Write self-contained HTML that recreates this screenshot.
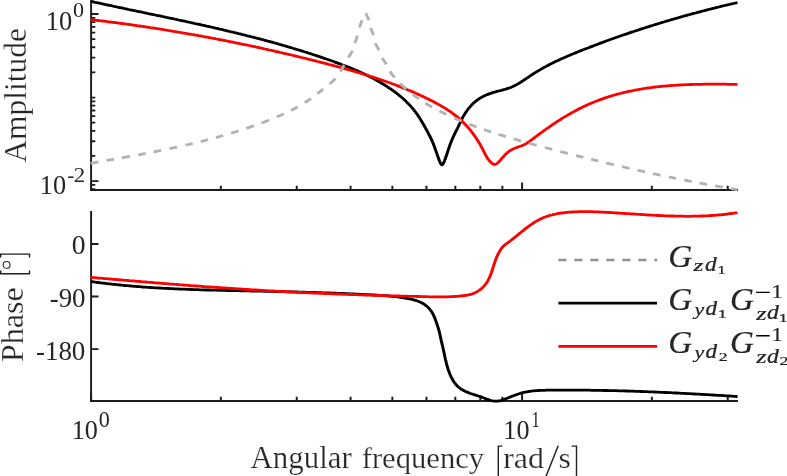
<!DOCTYPE html>
<html><head><meta charset="utf-8"><title>Bode plot</title>
<style>html,body{margin:0;padding:0;background:#fff;overflow:hidden}svg{display:block;will-change:transform}text{font-family:"Liberation Serif",serif;fill:#262626}</style></head><body>
<svg width="787" height="476" viewBox="0 0 787 476">
<rect width="787" height="476" fill="#fff"/>
<g stroke="#1c1c1c" stroke-width="1.8" fill="none" stroke-linecap="butt">
<path d="M91.1 0 V190.90" stroke-width="1.95"/>
<path d="M90.12 190.0 H738.0"/>
<path d="M91.1 211.0 V401.90" stroke-width="1.95"/>
<path d="M90.12 401.0 H738.0"/>
<path d="M91.1 14.00 h7.4 M91.1 181.10 h7.4 M91.1 97.55 h4.2 M91.1 72.40 h4.2 M91.1 57.69 h4.2 M91.1 47.25 h4.2 M91.1 39.15 h4.2 M91.1 32.54 h4.2 M91.1 26.94 h4.2 M91.1 22.10 h4.2 M91.1 17.82 h4.2 M91.1 155.95 h4.2 M91.1 141.24 h4.2 M91.1 130.80 h4.2 M91.1 122.70 h4.2 M91.1 116.09 h4.2 M91.1 110.49 h4.2 M91.1 105.65 h4.2 M91.1 101.37 h4.2 M91.1 189.20 h4.2 M91.1 184.92 h4.2 M91.1 244.0 h7.4 M91.1 296.5 h7.4 M91.1 349.1 h7.4"/>
<path d="M91.10 190.0 v-7.4 M522.10 190.0 v-7.4 M220.84 190.0 v-4.2 M296.74 190.0 v-4.2 M350.59 190.0 v-4.2 M392.36 190.0 v-4.2 M426.48 190.0 v-4.2 M455.34 190.0 v-4.2 M480.33 190.0 v-4.2 M502.38 190.0 v-4.2 M651.84 190.0 v-4.2 M727.74 190.0 v-4.2 M91.10 401.0 v-7.4 M522.10 401.0 v-7.4 M220.84 401.0 v-4.2 M296.74 401.0 v-4.2 M350.59 401.0 v-4.2 M392.36 401.0 v-4.2 M426.48 401.0 v-4.2 M455.34 401.0 v-4.2 M480.33 401.0 v-4.2 M502.38 401.0 v-4.2 M651.84 401.0 v-4.2 M727.74 401.0 v-4.2" stroke-width="1.95"/>
</g>
<g fill="none" stroke-linejoin="round" stroke-linecap="butt" transform="scale(1.06 1)">
<path d="M85.47 1.3 L86.85 1.6 L88.23 1.9 L89.62 2.3 L91.00 2.6 L92.38 2.9 L93.76 3.2 L95.14 3.5 L96.53 3.8 L97.91 4.2 L99.29 4.5 L100.67 4.8 L102.06 5.1 L103.44 5.4 L104.82 5.7 L106.21 6.0 L107.59 6.4 L108.98 6.7 L110.36 7.0 L111.74 7.3 L113.13 7.6 L114.51 7.9 L115.90 8.2 L117.28 8.5 L118.67 8.8 L120.05 9.1 L121.44 9.5 L122.82 9.8 L124.21 10.1 L125.59 10.4 L126.98 10.7 L128.36 11.0 L129.75 11.3 L131.13 11.6 L132.52 11.9 L133.91 12.2 L135.29 12.5 L136.68 12.8 L138.06 13.1 L139.45 13.5 L140.83 13.8 L142.22 14.1 L143.60 14.4 L144.99 14.7 L146.38 15.0 L147.76 15.3 L149.15 15.6 L150.53 15.9 L151.92 16.2 L153.30 16.5 L154.69 16.8 L156.07 17.2 L157.46 17.5 L158.84 17.8 L160.23 18.1 L161.61 18.4 L163.00 18.7 L164.38 19.0 L165.77 19.3 L167.15 19.6 L168.54 20.0 L169.92 20.3 L171.31 20.6 L172.69 20.9 L174.07 21.2 L175.46 21.5 L176.84 21.9 L178.23 22.2 L179.61 22.5 L180.99 22.8 L182.37 23.1 L183.76 23.5 L185.14 23.8 L186.52 24.1 L187.90 24.4 L189.29 24.7 L190.67 25.1 L192.05 25.4 L193.43 25.7 L194.81 26.1 L196.19 26.4 L197.57 26.7 L198.95 27.0 L200.33 27.4 L201.71 27.7 L203.09 28.1 L204.47 28.4 L205.85 28.7 L207.23 29.1 L208.61 29.4 L209.98 29.7 L211.36 30.1 L212.74 30.4 L214.12 30.8 L215.49 31.1 L216.87 31.5 L218.24 31.8 L219.62 32.2 L221.00 32.5 L222.37 32.9 L223.74 33.2 L225.12 33.6 L226.49 33.9 L227.87 34.3 L229.24 34.7 L230.61 35.0 L231.98 35.4 L233.36 35.8 L234.73 36.1 L236.10 36.5 L237.47 36.9 L238.84 37.2 L240.21 37.6 L241.58 38.0 L242.95 38.4 L244.31 38.7 L245.68 39.1 L247.05 39.5 L248.42 39.9 L249.78 40.3 L251.15 40.7 L252.51 41.1 L253.88 41.4 L255.24 41.8 L256.61 42.2 L257.97 42.6 L259.33 43.0 L260.69 43.4 L262.06 43.8 L263.42 44.3 L264.78 44.7 L266.14 45.1 L267.50 45.5 L268.86 45.9 L270.21 46.3 L271.57 46.7 L272.93 47.2 L274.28 47.6 L275.64 48.0 L277.00 48.5 L278.35 48.9 L279.70 49.3 L281.06 49.8 L282.41 50.2 L283.76 50.6 L285.11 51.1 L286.46 51.5 L287.81 52.0 L289.16 52.4 L290.51 52.9 L291.86 53.3 L293.21 53.8 L294.55 54.3 L295.90 54.7 L297.25 55.2 L298.59 55.7 L299.93 56.1 L301.28 56.6 L302.62 57.1 L303.96 57.6 L305.30 58.1 L306.64 58.6 L307.98 59.0 L309.32 59.5 L310.66 60.0 L312.00 60.5 L313.33 61.0 L314.67 61.5 L316.00 62.1 L317.33 62.6 L318.67 63.1 L320.00 63.6 L321.33 64.1 L322.65 64.7 L323.98 65.2 L325.30 65.7 L326.62 66.3 L327.94 66.8 L329.26 67.4 L330.57 67.9 L331.88 68.5 L333.19 69.1 L334.50 69.7 L335.80 70.2 L337.10 70.8 L338.39 71.4 L339.69 72.1 L340.97 72.7 L342.26 73.3 L343.54 73.9 L344.81 74.6 L346.09 75.2 L347.35 75.9 L348.62 76.5 L349.88 77.2 L351.13 77.9 L352.38 78.6 L353.62 79.3 L354.86 80.0 L356.09 80.7 L357.32 81.5 L358.54 82.2 L359.76 83.0 L360.96 83.8 L362.17 84.5 L363.37 85.3 L364.56 86.1 L365.74 87.0 L366.92 87.8 L368.09 88.6 L369.25 89.5 L370.41 90.3 L371.56 91.2 L372.70 92.1 L373.83 93.0 L374.95 94.0 L376.07 94.9 L377.17 95.8 L378.26 96.8 L379.34 97.8 L380.40 98.8 L381.45 99.8 L382.49 100.8 L383.51 101.9 L384.52 102.9 L385.51 104.0 L386.48 105.1 L387.44 106.2 L388.38 107.3 L389.30 108.4 L390.20 109.6 L391.08 110.8 L391.94 112.0 L392.78 113.2 L393.59 114.4 L394.39 115.6 L395.18 116.9 L395.94 118.1 L396.69 119.4 L397.43 120.7 L398.16 122.0 L398.87 123.3 L399.58 124.6 L400.27 125.9 L400.96 127.2 L401.65 128.5 L402.32 129.8 L403.00 131.1 L403.67 132.4 L404.33 133.8 L404.98 135.1 L405.62 136.4 L406.25 137.8 L406.86 139.1 L407.45 140.5 L408.02 141.9 L408.57 143.3 L409.11 144.8 L409.62 146.2 L410.11 147.6 L410.59 149.0 L411.05 150.4 L411.49 151.7 L411.91 153.0 L412.33 154.3 L412.77 155.7 L413.23 157.0 L413.74 158.5 L414.31 160.1 L414.95 161.9 L415.66 163.5 L416.41 164.6 L417.19 164.8 L417.96 163.9 L418.71 162.3 L419.40 160.6 L420.02 158.9 L420.57 157.3 L421.07 155.8 L421.52 154.4 L421.94 153.0 L422.34 151.7 L422.74 150.4 L423.13 149.1 L423.55 147.8 L423.98 146.5 L424.44 145.1 L424.93 143.7 L425.43 142.3 L425.96 140.9 L426.51 139.5 L427.08 138.0 L427.68 136.6 L428.29 135.3 L428.91 133.9 L429.54 132.6 L430.18 131.2 L430.82 129.9 L431.45 128.6 L432.08 127.2 L432.68 125.9 L433.28 124.5 L433.86 123.2 L434.46 121.8 L435.08 120.4 L435.72 119.1 L436.39 117.7 L437.08 116.4 L437.81 115.1 L438.56 113.8 L439.34 112.5 L440.15 111.3 L440.98 110.0 L441.85 108.8 L442.74 107.7 L443.66 106.5 L444.62 105.4 L445.60 104.3 L446.61 103.3 L447.65 102.3 L448.73 101.3 L449.83 100.4 L450.96 99.5 L452.12 98.7 L453.31 97.9 L454.52 97.2 L455.76 96.5 L457.02 95.8 L458.29 95.2 L459.58 94.6 L460.89 94.1 L462.22 93.6 L463.55 93.1 L464.90 92.6 L466.25 92.2 L467.61 91.8 L468.98 91.4 L470.34 91.0 L471.71 90.6 L473.08 90.3 L474.44 89.9 L475.80 89.5 L477.15 89.1 L478.49 88.6 L479.82 88.2 L481.13 87.7 L482.43 87.2 L483.71 86.6 L484.97 86.0 L486.21 85.3 L487.45 84.6 L488.67 83.9 L489.88 83.1 L491.08 82.3 L492.27 81.5 L493.45 80.7 L494.64 79.8 L495.81 79.0 L496.99 78.2 L498.17 77.3 L499.35 76.5 L500.53 75.6 L501.72 74.8 L502.92 74.0 L504.12 73.2 L505.32 72.4 L506.53 71.6 L507.75 70.8 L508.97 70.1 L510.20 69.3 L511.43 68.6 L512.67 67.8 L513.91 67.1 L515.15 66.4 L516.40 65.7 L517.65 65.0 L518.91 64.3 L520.17 63.6 L521.44 63.0 L522.71 62.3 L523.98 61.6 L525.26 61.0 L526.54 60.4 L527.82 59.7 L529.11 59.1 L530.39 58.5 L531.69 57.9 L532.98 57.3 L534.28 56.7 L535.58 56.1 L536.88 55.5 L538.18 54.9 L539.49 54.3 L540.80 53.8 L542.11 53.2 L543.42 52.6 L544.73 52.1 L546.04 51.5 L547.36 50.9 L548.68 50.4 L550.00 49.8 L551.31 49.3 L552.63 48.7 L553.95 48.2 L555.27 47.7 L556.60 47.1 L557.92 46.6 L559.24 46.1 L560.57 45.5 L561.89 45.0 L563.22 44.5 L564.54 43.9 L565.87 43.4 L567.19 42.9 L568.52 42.4 L569.85 41.9 L571.18 41.3 L572.51 40.8 L573.84 40.3 L575.17 39.8 L576.50 39.3 L577.84 38.8 L579.17 38.3 L580.50 37.8 L581.84 37.3 L583.17 36.8 L584.51 36.3 L585.84 35.8 L587.18 35.3 L588.52 34.8 L589.86 34.3 L591.20 33.9 L592.54 33.4 L593.88 32.9 L595.22 32.4 L596.56 31.9 L597.90 31.5 L599.24 31.0 L600.59 30.5 L601.93 30.1 L603.27 29.6 L604.62 29.1 L605.96 28.7 L607.31 28.2 L608.66 27.7 L610.00 27.3 L611.35 26.8 L612.70 26.4 L614.05 25.9 L615.40 25.5 L616.75 25.0 L618.10 24.6 L619.45 24.2 L620.80 23.7 L622.16 23.3 L623.51 22.8 L624.86 22.4 L626.22 22.0 L627.57 21.5 L628.93 21.1 L630.28 20.7 L631.64 20.3 L633.00 19.8 L634.36 19.4 L635.71 19.0 L637.07 18.6 L638.43 18.2 L639.79 17.8 L641.15 17.3 L642.51 16.9 L643.88 16.5 L645.24 16.1 L646.60 15.7 L647.96 15.3 L649.33 14.9 L650.69 14.5 L652.06 14.1 L653.42 13.7 L654.79 13.3 L656.15 13.0 L657.52 12.6 L658.89 12.2 L660.26 11.8 L661.62 11.4 L662.99 11.0 L664.36 10.7 L665.73 10.3 L667.10 9.9 L668.47 9.5 L669.84 9.2 L671.22 8.8 L672.59 8.4 L673.96 8.1 L675.33 7.7 L676.71 7.3 L678.08 7.0 L679.46 6.6 L680.83 6.2 L682.21 5.9 L683.58 5.5 L684.96 5.2 L686.34 4.8 L687.71 4.5 L689.09 4.1 L690.47 3.8 L691.85 3.5 L693.23 3.1 L694.61 2.8 L695.75 2.5" stroke="#000" stroke-width="2.8"/>
<path d="M85.47 19.6 L86.88 19.8 L88.28 19.9 L89.69 20.1 L91.10 20.3 L92.50 20.5 L93.91 20.7 L95.31 20.8 L96.72 21.0 L98.12 21.2 L99.53 21.4 L100.93 21.6 L102.33 21.8 L103.74 22.0 L105.14 22.2 L106.55 22.3 L107.95 22.5 L109.35 22.7 L110.76 22.9 L112.16 23.1 L113.56 23.3 L114.96 23.5 L116.37 23.7 L117.77 23.9 L119.17 24.1 L120.57 24.3 L121.98 24.5 L123.38 24.7 L124.78 25.0 L126.18 25.2 L127.58 25.4 L128.98 25.6 L130.38 25.8 L131.78 26.0 L133.18 26.2 L134.58 26.5 L135.98 26.7 L137.38 26.9 L138.78 27.1 L140.18 27.3 L141.58 27.6 L142.98 27.8 L144.38 28.0 L145.78 28.2 L147.18 28.5 L148.57 28.7 L149.97 28.9 L151.37 29.2 L152.77 29.4 L154.16 29.6 L155.56 29.9 L156.96 30.1 L158.36 30.4 L159.75 30.6 L161.15 30.8 L162.55 31.1 L163.94 31.3 L165.34 31.6 L166.73 31.8 L168.13 32.1 L169.52 32.3 L170.92 32.6 L172.31 32.8 L173.71 33.1 L175.10 33.3 L176.50 33.6 L177.89 33.8 L179.28 34.1 L180.68 34.4 L182.07 34.6 L183.46 34.9 L184.86 35.2 L186.25 35.4 L187.64 35.7 L189.03 35.9 L190.43 36.2 L191.82 36.5 L193.21 36.8 L194.60 37.0 L195.99 37.3 L197.38 37.6 L198.77 37.9 L200.16 38.1 L201.55 38.4 L202.94 38.7 L204.33 39.0 L205.72 39.3 L207.11 39.5 L208.50 39.8 L209.89 40.1 L211.28 40.4 L212.67 40.7 L214.05 41.0 L215.44 41.3 L216.83 41.6 L218.22 41.9 L219.60 42.2 L220.99 42.5 L222.38 42.8 L223.76 43.1 L225.15 43.4 L226.54 43.7 L227.92 44.0 L229.31 44.3 L230.69 44.6 L232.08 44.9 L233.46 45.2 L234.85 45.5 L236.23 45.8 L237.62 46.1 L239.00 46.4 L240.38 46.7 L241.77 47.1 L243.15 47.4 L244.53 47.7 L245.91 48.0 L247.30 48.3 L248.68 48.7 L250.06 49.0 L251.44 49.3 L252.82 49.6 L254.20 50.0 L255.58 50.3 L256.97 50.6 L258.35 50.9 L259.73 51.3 L261.10 51.6 L262.48 51.9 L263.86 52.3 L265.24 52.6 L266.62 53.0 L268.00 53.3 L269.38 53.6 L270.76 54.0 L272.13 54.3 L273.51 54.7 L274.89 55.0 L276.26 55.4 L277.64 55.7 L279.02 56.1 L280.39 56.4 L281.77 56.8 L283.14 57.1 L284.52 57.5 L285.89 57.8 L287.27 58.2 L288.64 58.5 L290.02 58.9 L291.39 59.3 L292.77 59.6 L294.14 60.0 L295.51 60.4 L296.88 60.7 L298.26 61.1 L299.63 61.5 L301.00 61.8 L302.37 62.2 L303.74 62.6 L305.11 62.9 L306.48 63.3 L307.86 63.7 L309.23 64.1 L310.59 64.5 L311.96 64.8 L313.33 65.2 L314.70 65.6 L316.07 66.0 L317.43 66.4 L318.80 66.8 L320.17 67.2 L321.53 67.6 L322.90 68.0 L324.26 68.4 L325.62 68.8 L326.99 69.2 L328.35 69.6 L329.71 70.0 L331.07 70.4 L332.43 70.8 L333.79 71.2 L335.15 71.6 L336.50 72.1 L337.86 72.5 L339.21 72.9 L340.57 73.3 L341.92 73.8 L343.27 74.2 L344.63 74.7 L345.98 75.1 L347.32 75.6 L348.67 76.0 L350.02 76.5 L351.37 76.9 L352.71 77.4 L354.05 77.8 L355.40 78.3 L356.74 78.8 L358.08 79.3 L359.41 79.8 L360.75 80.2 L362.09 80.7 L363.42 81.2 L364.75 81.7 L366.09 82.2 L367.42 82.7 L368.74 83.2 L370.07 83.8 L371.40 84.3 L372.72 84.8 L374.04 85.3 L375.36 85.9 L376.68 86.4 L378.00 87.0 L379.32 87.5 L380.63 88.1 L381.94 88.6 L383.26 89.2 L384.56 89.8 L385.87 90.3 L387.18 90.9 L388.48 91.5 L389.78 92.1 L391.08 92.7 L392.38 93.3 L393.68 93.9 L394.97 94.5 L396.26 95.2 L397.55 95.8 L398.84 96.4 L400.13 97.1 L401.41 97.7 L402.69 98.4 L403.97 99.0 L405.25 99.7 L406.52 100.4 L407.79 101.1 L409.05 101.8 L410.31 102.5 L411.57 103.2 L412.81 103.9 L414.05 104.6 L415.29 105.4 L416.51 106.1 L417.73 106.9 L418.94 107.7 L420.15 108.4 L421.34 109.2 L422.52 110.1 L423.69 110.9 L424.85 111.7 L426.00 112.6 L427.14 113.5 L428.27 114.4 L429.38 115.3 L430.48 116.2 L431.57 117.1 L432.64 118.1 L433.70 119.1 L434.74 120.1 L435.77 121.1 L436.78 122.1 L437.78 123.2 L438.76 124.2 L439.73 125.3 L440.68 126.4 L441.61 127.6 L442.53 128.7 L443.43 129.8 L444.32 131.0 L445.19 132.2 L446.04 133.4 L446.88 134.6 L447.71 135.8 L448.51 137.1 L449.30 138.3 L450.08 139.6 L450.84 140.8 L451.58 142.1 L452.31 143.4 L453.02 144.7 L453.71 146.0 L454.39 147.4 L455.06 148.7 L455.70 150.0 L456.34 151.4 L456.98 152.7 L457.63 154.1 L458.30 155.4 L459.01 156.7 L459.76 157.9 L460.57 159.2 L461.44 160.4 L462.39 161.5 L463.42 162.6 L464.55 163.6 L465.75 164.3 L466.98 164.5 L468.20 164.0 L469.39 163.1 L470.52 161.9 L471.58 160.7 L472.56 159.5 L473.49 158.4 L474.40 157.2 L475.30 156.2 L476.23 155.1 L477.21 154.1 L478.24 153.1 L479.33 152.1 L480.47 151.2 L481.65 150.3 L482.88 149.6 L484.15 148.9 L485.45 148.3 L486.78 147.8 L488.11 147.3 L489.46 146.8 L490.79 146.3 L492.12 145.8 L493.43 145.2 L494.71 144.6 L495.95 143.9 L497.16 143.1 L498.35 142.2 L499.51 141.4 L500.67 140.5 L501.81 139.6 L502.96 138.7 L504.09 137.8 L505.23 136.9 L506.36 136.0 L507.49 135.1 L508.62 134.2 L509.75 133.4 L510.88 132.5 L512.01 131.6 L513.14 130.7 L514.27 129.9 L515.41 129.0 L516.55 128.1 L517.70 127.3 L518.85 126.4 L520.01 125.6 L521.17 124.7 L522.34 123.9 L523.52 123.1 L524.70 122.2 L525.88 121.4 L527.08 120.6 L528.28 119.8 L529.48 119.0 L530.69 118.2 L531.90 117.4 L533.12 116.6 L534.34 115.9 L535.57 115.1 L536.81 114.3 L538.05 113.6 L539.29 112.8 L540.54 112.1 L541.79 111.4 L543.05 110.7 L544.31 110.0 L545.57 109.3 L546.84 108.6 L548.12 107.9 L549.40 107.2 L550.68 106.6 L551.96 105.9 L553.25 105.3 L554.55 104.7 L555.84 104.1 L557.14 103.5 L558.45 102.9 L559.75 102.3 L561.07 101.8 L562.38 101.2 L563.70 100.7 L565.02 100.1 L566.34 99.6 L567.67 99.1 L568.99 98.6 L570.33 98.1 L571.66 97.6 L573.00 97.2 L574.34 96.7 L575.69 96.3 L577.03 95.9 L578.38 95.4 L579.73 95.0 L581.09 94.6 L582.44 94.2 L583.80 93.8 L585.17 93.5 L586.53 93.1 L587.90 92.7 L589.27 92.4 L590.64 92.1 L592.01 91.7 L593.39 91.4 L594.76 91.1 L596.14 90.8 L597.53 90.5 L598.91 90.2 L600.29 89.9 L601.68 89.7 L603.07 89.4 L604.46 89.2 L605.85 88.9 L607.25 88.7 L608.64 88.4 L610.04 88.2 L611.44 88.0 L612.84 87.8 L614.24 87.6 L615.65 87.4 L617.05 87.2 L618.46 87.0 L619.86 86.9 L621.27 86.7 L622.68 86.5 L624.09 86.4 L625.50 86.2 L626.91 86.1 L628.33 86.0 L629.74 85.8 L631.16 85.7 L632.57 85.6 L633.99 85.5 L635.41 85.4 L636.82 85.3 L638.24 85.2 L639.66 85.1 L641.08 85.0 L642.50 84.9 L643.92 84.9 L645.34 84.8 L646.76 84.7 L648.18 84.7 L649.60 84.6 L651.02 84.5 L652.44 84.5 L653.86 84.4 L655.29 84.4 L656.71 84.4 L658.13 84.3 L659.55 84.3 L660.97 84.3 L662.39 84.3 L663.81 84.2 L665.23 84.2 L666.65 84.2 L668.07 84.2 L669.48 84.2 L670.90 84.2 L672.32 84.2 L673.73 84.2 L675.15 84.2 L676.56 84.2 L677.98 84.2 L679.39 84.2 L680.80 84.2 L682.22 84.2 L683.63 84.2 L685.03 84.2 L686.44 84.3 L687.85 84.3 L689.26 84.3 L690.66 84.3 L692.06 84.3 L693.46 84.4 L694.86 84.4 L695.75 84.4" stroke="#ff0000" stroke-width="2.8"/>
<path d="M85.47 163.3 L86.17 163.2 L86.86 163.0 L87.55 162.9 L88.25 162.8 L88.94 162.7 L89.64 162.5 L90.33 162.4 L91.03 162.3 L91.72 162.1 L92.42 162.0 L92.88 161.9 M100.53 160.5 L101.23 160.4 L101.92 160.2 L102.62 160.1 L103.32 160.0 L104.01 159.9 L104.71 159.7 L105.40 159.6 L106.10 159.5 L106.80 159.3 L107.49 159.2 M114.92 157.8 L115.62 157.7 L116.31 157.5 L117.01 157.4 L117.71 157.3 L118.40 157.1 L119.10 157.0 L119.80 156.9 L120.49 156.7 L121.19 156.6 L121.89 156.5 L122.58 156.3 M130.48 154.8 L131.17 154.7 L131.87 154.5 L132.57 154.4 L133.26 154.3 L133.96 154.1 L134.66 154.0 L135.35 153.8 L136.05 153.7 L136.74 153.6 L137.44 153.4 M144.86 151.9 L145.56 151.8 L146.25 151.6 L146.95 151.5 L147.64 151.3 L148.34 151.2 L149.03 151.0 L149.73 150.9 L150.42 150.7 L151.12 150.6 L151.81 150.4 L152.04 150.4 M159.91 148.7 L160.60 148.5 L161.29 148.3 L161.99 148.2 L162.68 148.0 L163.37 147.9 L164.06 147.7 L164.76 147.6 L165.45 147.4 L166.14 147.2 L166.83 147.1 L167.07 147.0 M174.90 145.2 L175.59 145.0 L176.28 144.8 L176.97 144.7 L177.66 144.5 L178.35 144.3 L179.04 144.2 L179.73 144.0 L180.42 143.8 L181.11 143.7 L181.80 143.5 M189.36 141.5 L190.05 141.4 L190.74 141.2 L191.42 141.0 L192.11 140.8 L192.79 140.6 L193.48 140.4 L194.17 140.2 L194.85 140.1 L195.54 139.9 L196.22 139.7 M203.74 137.6 L204.42 137.4 L205.10 137.2 L205.78 137.0 L206.47 136.8 L207.15 136.6 L207.83 136.4 L208.51 136.2 L209.19 136.0 L209.87 135.7 L210.55 135.5 M218.01 133.2 L218.69 133.0 L219.36 132.8 L220.04 132.6 L220.71 132.3 L221.39 132.1 L222.07 131.9 L222.74 131.7 L223.41 131.5 L224.09 131.2 L224.76 131.0 L224.99 130.9 M232.38 128.4 L233.05 128.1 L233.72 127.9 L234.39 127.7 L235.06 127.4 L235.73 127.2 L236.40 126.9 L237.06 126.7 L237.73 126.4 L238.40 126.2 L239.07 126.0 L239.51 125.8 M246.83 123.0 L247.49 122.7 L248.15 122.5 L248.81 122.2 L249.47 121.9 L250.14 121.7 L250.80 121.4 L251.46 121.1 L252.12 120.9 L252.78 120.6 L253.44 120.3 L253.88 120.1 M261.31 116.9 L261.96 116.6 L262.61 116.3 L263.26 116.0 L263.91 115.7 L264.56 115.4 L265.21 115.1 L265.85 114.8 L266.50 114.5 L267.14 114.2 L267.79 113.9 M274.58 110.5 L275.21 110.1 L275.84 109.8 L276.47 109.4 L277.09 109.1 L277.72 108.7 L278.34 108.4 L278.96 108.0 L279.58 107.7 L280.20 107.3 L280.81 106.9 M287.48 102.7 L288.07 102.3 L288.67 101.9 L289.26 101.5 L289.85 101.1 L290.43 100.7 L291.02 100.2 L291.60 99.8 L292.19 99.4 L292.77 99.0 L293.35 98.5 M299.43 93.8 L299.99 93.3 L300.55 92.8 L301.11 92.4 L301.67 91.9 L302.23 91.4 L302.79 91.0 L303.34 90.5 L303.90 90.0 L304.45 89.5 L305.01 89.1 M310.87 83.9 L311.42 83.4 L311.97 82.9 L312.51 82.5 L313.04 82.0 L313.58 81.5 L314.10 81.0 L314.62 80.4 L315.13 79.9 L315.63 79.4 L316.12 78.9 L316.44 78.5 M321.10 71.7 L321.46 71.0 L321.81 70.4 L322.15 69.7 L322.50 69.1 L322.83 68.4 L323.17 67.8 L323.50 67.1 L323.83 66.4 L324.16 65.8 L324.49 65.1 L324.59 64.9 M328.55 57.5 L328.95 56.9 L329.35 56.2 L329.75 55.6 L330.15 55.0 L330.54 54.4 L330.93 53.7 L331.30 53.1 L331.65 52.4 L331.99 51.8 L332.30 51.1 L332.40 50.9 M334.84 43.1 L335.06 42.3 L335.28 41.6 L335.51 40.9 L335.73 40.2 L335.96 39.5 L336.18 38.8 L336.40 38.1 L336.62 37.4 L336.83 36.6 L337.03 35.9 L337.09 35.7 M339.17 27.5 L339.38 26.7 L339.60 26.0 L339.83 25.2 L340.06 24.5 L340.30 23.8 L340.54 23.1 L340.79 22.4 L341.03 21.7 L341.28 21.1 L341.53 20.5 L341.62 20.3 M344.93 13.2 L345.30 13.8 L345.67 14.6 L346.03 15.5 L346.37 16.3 L346.70 17.0 L347.01 17.7 L347.30 18.4 L347.57 19.0 L347.82 19.6 L347.97 20.1 M349.83 28.0 L350.03 28.8 L350.25 29.5 L350.49 30.2 L350.75 30.9 L351.01 31.6 L351.28 32.3 L351.54 33.0 L351.80 33.7 L352.05 34.4 L352.28 35.1 M354.08 43.1 L354.33 43.8 L354.61 44.5 L354.92 45.2 L355.25 45.8 L355.61 46.5 L355.97 47.1 L356.34 47.8 L356.72 48.4 L357.08 49.1 L357.44 49.7 L357.66 50.1 M360.67 58.0 L361.00 58.7 L361.36 59.3 L361.73 60.0 L362.12 60.6 L362.53 61.2 L362.93 61.8 L363.34 62.4 L363.75 63.1 L364.15 63.7 L364.53 64.3 M367.88 71.2 L368.24 71.8 L368.61 72.5 L369.00 73.1 L369.40 73.7 L369.81 74.3 L370.24 74.9 L370.67 75.5 L371.12 76.1 L371.57 76.7 L372.03 77.3 L372.19 77.5 M377.51 83.5 L378.02 84.1 L378.52 84.6 L379.03 85.1 L379.54 85.6 L380.06 86.1 L380.58 86.6 L381.10 87.2 L381.62 87.7 L382.15 88.2 L382.67 88.6 L383.21 89.1 M389.59 94.6 L390.16 95.1 L390.72 95.5 L391.29 96.0 L391.86 96.4 L392.43 96.8 L393.00 97.3 L393.58 97.7 L394.16 98.1 L394.74 98.6 L395.12 98.8 M401.44 103.2 L402.04 103.6 L402.65 104.0 L403.25 104.4 L403.86 104.7 L404.47 105.1 L405.08 105.5 L405.69 105.9 L406.31 106.2 L406.92 106.6 L407.54 107.0 L407.74 107.1 M414.60 111.0 L415.23 111.4 L415.86 111.7 L416.50 112.0 L417.13 112.4 L417.76 112.7 L418.40 113.0 L419.03 113.4 L419.67 113.7 L420.31 114.0 L420.94 114.3 L421.16 114.4 M428.44 118.0 L429.09 118.3 L429.73 118.6 L430.38 118.9 L431.03 119.2 L431.68 119.5 L432.33 119.8 L432.98 120.1 L433.63 120.4 L434.29 120.7 L434.94 120.9 L435.37 121.1 M442.82 124.3 L443.48 124.5 L444.14 124.8 L444.80 125.1 L445.46 125.3 L446.12 125.6 L446.79 125.9 L447.45 126.1 L448.11 126.4 L448.78 126.6 L449.44 126.9 M456.56 129.6 L457.23 129.8 L457.90 130.0 L458.57 130.3 L459.24 130.5 L459.91 130.8 L460.58 131.0 L461.25 131.2 L461.92 131.5 L462.60 131.7 L463.27 131.9 M470.23 134.3 L470.91 134.5 L471.58 134.7 L472.26 135.0 L472.94 135.2 L473.61 135.4 L474.29 135.6 L474.97 135.8 L475.64 136.1 L476.32 136.3 L477.00 136.5 L477.22 136.6 M484.69 138.9 L485.36 139.1 L486.04 139.3 L486.72 139.5 L487.40 139.7 L488.08 139.9 L488.76 140.2 L489.44 140.4 L490.12 140.6 L490.80 140.8 L491.48 141.0 L491.71 141.0 M498.98 143.2 L499.66 143.4 L500.34 143.6 L501.03 143.8 L501.71 144.0 L502.39 144.2 L503.07 144.4 L503.76 144.6 L504.44 144.8 L505.12 144.9 L505.80 145.1 L506.26 145.3 M514.00 147.5 L514.69 147.7 L515.37 147.8 L516.05 148.0 L516.74 148.2 L517.42 148.4 L518.11 148.6 L518.79 148.8 L519.48 149.0 L520.16 149.2 L520.84 149.4 L521.07 149.4 M528.60 151.5 L529.29 151.7 L529.97 151.9 L530.66 152.1 L531.34 152.3 L532.03 152.4 L532.71 152.6 L533.40 152.8 L534.08 153.0 L534.77 153.2 L535.45 153.4 L535.68 153.4 M543.45 155.5 L544.14 155.7 L544.82 155.9 L545.51 156.1 L546.19 156.3 L546.88 156.4 L547.57 156.6 L548.25 156.8 L548.94 157.0 L549.63 157.2 L550.31 157.4 M557.64 159.3 L558.32 159.5 L559.01 159.6 L559.70 159.8 L560.38 160.0 L561.07 160.2 L561.76 160.4 L562.45 160.5 L563.13 160.7 L563.82 160.9 L564.51 161.1 M571.84 162.9 L572.53 163.1 L573.22 163.3 L573.91 163.5 L574.60 163.6 L575.28 163.8 L575.97 164.0 L576.66 164.2 L577.35 164.3 L578.04 164.5 L578.73 164.7 L579.19 164.8 M586.76 166.7 L587.45 166.8 L588.14 167.0 L588.83 167.2 L589.52 167.3 L590.21 167.5 L590.90 167.7 L591.59 167.9 L592.28 168.0 L592.97 168.2 L593.66 168.4 L593.89 168.4 M601.48 170.2 L602.17 170.4 L602.86 170.6 L603.55 170.7 L604.24 170.9 L604.93 171.0 L605.62 171.2 L606.31 171.4 L607.00 171.5 L607.69 171.7 L608.38 171.9 L608.61 171.9 M615.99 173.6 L616.68 173.8 L617.37 173.9 L618.06 174.1 L618.75 174.2 L619.45 174.4 L620.14 174.6 L620.83 174.7 L621.52 174.9 L622.21 175.0 L622.91 175.2 L623.14 175.2 M630.99 177.0 L631.68 177.1 L632.37 177.3 L633.06 177.4 L633.76 177.6 L634.45 177.7 L635.14 177.9 L635.84 178.0 L636.53 178.2 L637.22 178.3 L637.92 178.5 M645.55 180.1 L646.24 180.2 L646.94 180.4 L647.63 180.5 L648.32 180.7 L649.02 180.8 L649.71 181.0 L650.41 181.1 L651.10 181.3 L651.80 181.4 L652.49 181.5 M659.91 183.0 L660.60 183.2 L661.30 183.3 L661.99 183.4 L662.69 183.6 L663.38 183.7 L664.08 183.9 L664.77 184.0 L665.47 184.1 L666.17 184.3 L666.86 184.4 L667.09 184.4 M674.75 185.9 L675.45 186.0 L676.15 186.2 L676.84 186.3 L677.54 186.4 L678.24 186.6 L678.93 186.7 L679.63 186.8 L680.33 187.0 L681.03 187.1 L681.72 187.2 L681.96 187.3 M689.63 188.6 L690.33 188.8 L691.03 188.9 L691.73 189.0 L692.42 189.1 L693.12 189.2 L693.82 189.4 L694.52 189.5 L695.22 189.6 L695.75 189.7" stroke="#b2b2b2" stroke-width="2.8"/>
<path d="M85.47 281.5 L86.88 281.7 L88.28 281.9 L89.68 282.1 L91.09 282.3 L92.49 282.5 L93.90 282.7 L95.30 282.9 L96.71 283.1 L98.11 283.2 L99.52 283.4 L100.92 283.6 L102.33 283.8 L103.74 283.9 L105.14 284.1 L106.55 284.3 L107.96 284.4 L109.36 284.6 L110.77 284.7 L112.18 284.9 L113.59 285.0 L114.99 285.2 L116.40 285.3 L117.81 285.5 L119.22 285.6 L120.63 285.7 L122.04 285.9 L123.44 286.0 L124.85 286.1 L126.26 286.3 L127.67 286.4 L129.08 286.5 L130.49 286.6 L131.90 286.7 L133.31 286.8 L134.72 287.0 L136.13 287.1 L137.54 287.2 L138.95 287.3 L140.36 287.4 L141.77 287.5 L143.18 287.6 L144.59 287.7 L146.01 287.8 L147.42 287.9 L148.83 287.9 L150.24 288.0 L151.65 288.1 L153.06 288.2 L154.48 288.3 L155.89 288.4 L157.30 288.4 L158.71 288.5 L160.13 288.6 L161.54 288.7 L162.95 288.7 L164.36 288.8 L165.78 288.9 L167.19 288.9 L168.60 289.0 L170.02 289.1 L171.43 289.1 L172.84 289.2 L174.26 289.2 L175.67 289.3 L177.08 289.4 L178.50 289.4 L179.91 289.5 L181.33 289.5 L182.74 289.6 L184.15 289.6 L185.57 289.7 L186.98 289.7 L188.40 289.8 L189.81 289.8 L191.23 289.9 L192.64 289.9 L194.06 290.0 L195.47 290.0 L196.88 290.0 L198.30 290.1 L199.71 290.1 L201.13 290.2 L202.55 290.2 L203.96 290.2 L205.38 290.3 L206.79 290.3 L208.21 290.3 L209.62 290.4 L211.04 290.4 L212.45 290.4 L213.87 290.5 L215.28 290.5 L216.70 290.5 L218.12 290.6 L219.53 290.6 L220.95 290.6 L222.36 290.7 L223.78 290.7 L225.19 290.7 L226.61 290.8 L228.03 290.8 L229.44 290.8 L230.86 290.9 L232.27 290.9 L233.69 290.9 L235.11 290.9 L236.52 291.0 L237.94 291.0 L239.35 291.0 L240.77 291.1 L242.19 291.1 L243.60 291.1 L245.02 291.2 L246.43 291.2 L247.85 291.2 L249.27 291.3 L250.68 291.3 L252.10 291.3 L253.52 291.3 L254.93 291.4 L256.35 291.4 L257.76 291.4 L259.18 291.5 L260.59 291.5 L262.01 291.5 L263.43 291.6 L264.84 291.6 L266.26 291.6 L267.67 291.7 L269.09 291.7 L270.51 291.8 L271.92 291.8 L273.34 291.8 L274.75 291.9 L276.17 291.9 L277.58 291.9 L279.00 292.0 L280.41 292.0 L281.83 292.1 L283.24 292.1 L284.66 292.1 L286.07 292.2 L287.49 292.2 L288.90 292.3 L290.32 292.3 L291.73 292.3 L293.15 292.4 L294.56 292.4 L295.98 292.5 L297.39 292.5 L298.81 292.6 L300.22 292.6 L301.63 292.7 L303.05 292.7 L304.46 292.8 L305.87 292.8 L307.29 292.9 L308.70 292.9 L310.12 293.0 L311.53 293.0 L312.94 293.1 L314.35 293.1 L315.77 293.2 L317.18 293.2 L318.59 293.3 L320.01 293.4 L321.42 293.4 L322.83 293.5 L324.24 293.5 L325.65 293.6 L327.07 293.7 L328.48 293.7 L329.89 293.8 L331.30 293.8 L332.71 293.9 L334.12 294.0 L335.53 294.1 L336.94 294.1 L338.35 294.2 L339.76 294.3 L341.17 294.3 L342.58 294.4 L343.99 294.5 L345.40 294.6 L346.81 294.6 L348.22 294.7 L349.63 294.8 L351.04 294.9 L352.45 295.0 L353.86 295.0 L355.27 295.1 L356.67 295.2 L358.08 295.3 L359.49 295.4 L360.90 295.5 L362.30 295.6 L363.71 295.7 L365.12 295.8 L366.52 296.0 L367.93 296.1 L369.33 296.3 L370.74 296.4 L372.14 296.6 L373.55 296.7 L374.95 296.9 L376.36 297.1 L377.76 297.3 L379.16 297.5 L380.56 297.8 L381.97 298.0 L383.37 298.3 L384.77 298.5 L386.17 298.8 L387.56 299.2 L388.95 299.5 L390.33 299.9 L391.70 300.3 L393.05 300.7 L394.38 301.2 L395.70 301.8 L396.98 302.4 L398.25 303.1 L399.48 303.8 L400.68 304.7 L401.83 305.6 L402.94 306.5 L403.98 307.6 L404.95 308.6 L405.85 309.8 L406.68 311.0 L407.44 312.2 L408.15 313.5 L408.80 314.9 L409.40 316.2 L409.97 317.6 L410.50 319.0 L411.00 320.4 L411.48 321.9 L411.95 323.3 L412.40 324.7 L412.85 326.1 L413.28 327.6 L413.69 329.0 L414.08 330.4 L414.44 331.9 L414.78 333.3 L415.09 334.8 L415.38 336.3 L415.67 337.7 L415.97 339.2 L416.29 340.7 L416.61 342.1 L416.94 343.6 L417.27 345.0 L417.59 346.5 L417.91 348.0 L418.21 349.4 L418.52 350.9 L418.81 352.4 L419.11 353.8 L419.41 355.3 L419.70 356.8 L420.01 358.2 L420.32 359.7 L420.65 361.1 L420.98 362.6 L421.33 364.1 L421.70 365.5 L422.09 366.9 L422.50 368.4 L422.94 369.8 L423.40 371.2 L423.89 372.6 L424.41 374.0 L424.97 375.4 L425.56 376.8 L426.20 378.1 L426.87 379.5 L427.59 380.7 L428.36 382.0 L429.18 383.2 L430.06 384.4 L430.99 385.5 L431.97 386.5 L433.02 387.5 L434.14 388.4 L435.32 389.3 L436.55 390.0 L437.83 390.8 L439.14 391.4 L440.48 392.1 L441.83 392.6 L443.19 393.2 L444.55 393.7 L445.89 394.2 L447.23 394.6 L448.57 395.1 L449.90 395.5 L451.23 396.0 L452.56 396.4 L453.89 396.9 L455.22 397.5 L456.55 398.0 L457.89 398.6 L459.23 399.1 L460.59 399.6 L461.95 400.1 L463.33 400.5 L464.71 400.8 L466.11 401.1 L467.51 401.2 L468.91 401.2 L470.30 401.0 L471.69 400.8 L473.06 400.4 L474.41 399.9 L475.76 399.4 L477.09 398.8 L478.42 398.3 L479.74 397.7 L481.06 397.1 L482.38 396.6 L483.69 396.0 L485.01 395.5 L486.33 395.0 L487.65 394.4 L488.98 394.0 L490.31 393.5 L491.65 393.1 L493.00 392.7 L494.36 392.4 L495.73 392.1 L497.10 391.8 L498.49 391.5 L499.87 391.3 L501.27 391.1 L502.67 390.9 L504.08 390.8 L505.49 390.7 L506.90 390.6 L508.32 390.5 L509.74 390.4 L511.16 390.4 L512.59 390.3 L514.02 390.3 L515.45 390.2 L516.87 390.2 L518.30 390.2 L519.73 390.2 L521.16 390.2 L522.58 390.2 L524.01 390.2 L525.43 390.2 L526.85 390.1 L528.27 390.1 L529.69 390.1 L531.11 390.1 L532.53 390.1 L533.95 390.1 L535.37 390.1 L536.79 390.1 L538.20 390.1 L539.62 390.1 L541.03 390.1 L542.45 390.1 L543.86 390.1 L545.27 390.1 L546.69 390.2 L548.10 390.2 L549.51 390.2 L550.92 390.2 L552.34 390.2 L553.75 390.2 L555.16 390.2 L556.57 390.2 L557.98 390.3 L559.39 390.3 L560.80 390.3 L562.21 390.3 L563.62 390.3 L565.03 390.4 L566.44 390.4 L567.85 390.4 L569.26 390.5 L570.67 390.5 L572.08 390.5 L573.49 390.5 L574.90 390.6 L576.31 390.6 L577.72 390.6 L579.13 390.7 L580.54 390.7 L581.96 390.7 L583.37 390.8 L584.78 390.8 L586.19 390.9 L587.60 390.9 L589.02 390.9 L590.43 391.0 L591.84 391.0 L593.26 391.1 L594.67 391.1 L596.08 391.2 L597.50 391.2 L598.91 391.3 L600.33 391.3 L601.74 391.4 L603.15 391.4 L604.57 391.5 L605.98 391.5 L607.40 391.6 L608.81 391.7 L610.23 391.7 L611.64 391.8 L613.06 391.8 L614.47 391.9 L615.89 391.9 L617.30 392.0 L618.72 392.1 L620.14 392.1 L621.55 392.2 L622.97 392.3 L624.38 392.3 L625.80 392.4 L627.21 392.5 L628.63 392.5 L630.05 392.6 L631.46 392.7 L632.88 392.7 L634.29 392.8 L635.71 392.9 L637.12 393.0 L638.54 393.0 L639.95 393.1 L641.37 393.2 L642.79 393.3 L644.20 393.3 L645.62 393.4 L647.03 393.5 L648.45 393.6 L649.86 393.6 L651.28 393.7 L652.69 393.8 L654.11 393.9 L655.52 394.0 L656.94 394.1 L658.35 394.1 L659.76 394.2 L661.18 394.3 L662.59 394.4 L664.01 394.5 L665.42 394.6 L666.83 394.6 L668.25 394.7 L669.66 394.8 L671.07 394.9 L672.48 395.0 L673.90 395.1 L675.31 395.2 L676.72 395.3 L678.13 395.3 L679.54 395.4 L680.95 395.5 L682.37 395.6 L683.78 395.7 L685.19 395.8 L686.60 395.9 L688.01 396.0 L689.42 396.1 L690.83 396.2 L692.23 396.3 L693.64 396.4 L695.05 396.5 L695.75 396.5" stroke="#000" stroke-width="2.8"/>
<path d="M85.47 277.3 L86.88 277.4 L88.29 277.6 L89.70 277.7 L91.11 277.8 L92.52 278.0 L93.93 278.1 L95.34 278.2 L96.76 278.3 L98.17 278.5 L99.58 278.6 L100.99 278.7 L102.40 278.9 L103.81 279.0 L105.22 279.1 L106.63 279.3 L108.04 279.4 L109.45 279.5 L110.86 279.6 L112.27 279.8 L113.68 279.9 L115.09 280.0 L116.50 280.2 L117.91 280.3 L119.32 280.4 L120.73 280.5 L122.14 280.7 L123.55 280.8 L124.96 280.9 L126.37 281.0 L127.78 281.2 L129.19 281.3 L130.60 281.4 L132.01 281.5 L133.42 281.7 L134.83 281.8 L136.24 281.9 L137.65 282.0 L139.06 282.2 L140.47 282.3 L141.88 282.4 L143.29 282.5 L144.70 282.6 L146.11 282.8 L147.52 282.9 L148.93 283.0 L150.34 283.1 L151.75 283.2 L153.16 283.4 L154.58 283.5 L155.99 283.6 L157.40 283.7 L158.81 283.8 L160.22 284.0 L161.63 284.1 L163.04 284.2 L164.45 284.3 L165.86 284.4 L167.27 284.5 L168.68 284.7 L170.09 284.8 L171.50 284.9 L172.91 285.0 L174.32 285.1 L175.73 285.2 L177.14 285.3 L178.55 285.5 L179.96 285.6 L181.37 285.7 L182.78 285.8 L184.20 285.9 L185.61 286.0 L187.02 286.1 L188.43 286.2 L189.84 286.3 L191.25 286.5 L192.66 286.6 L194.07 286.7 L195.48 286.8 L196.89 286.9 L198.30 287.0 L199.71 287.1 L201.13 287.2 L202.54 287.3 L203.95 287.4 L205.36 287.5 L206.77 287.6 L208.18 287.7 L209.59 287.8 L211.00 287.9 L212.41 288.0 L213.83 288.1 L215.24 288.2 L216.65 288.3 L218.06 288.4 L219.47 288.5 L220.88 288.6 L222.30 288.7 L223.71 288.8 L225.12 288.9 L226.53 289.0 L227.94 289.1 L229.35 289.2 L230.77 289.3 L232.18 289.4 L233.59 289.5 L235.00 289.6 L236.41 289.7 L237.83 289.8 L239.24 289.9 L240.65 290.0 L242.06 290.0 L243.47 290.1 L244.89 290.2 L246.30 290.3 L247.71 290.4 L249.12 290.5 L250.54 290.6 L251.95 290.7 L253.36 290.8 L254.78 290.8 L256.19 290.9 L257.60 291.0 L259.01 291.1 L260.43 291.2 L261.84 291.3 L263.25 291.3 L264.67 291.4 L266.08 291.5 L267.49 291.6 L268.91 291.7 L270.32 291.7 L271.73 291.8 L273.15 291.9 L274.56 292.0 L275.97 292.0 L277.39 292.1 L278.80 292.2 L280.22 292.3 L281.63 292.3 L283.04 292.4 L284.46 292.5 L285.87 292.6 L287.29 292.6 L288.70 292.7 L290.11 292.8 L291.53 292.8 L292.94 292.9 L294.36 293.0 L295.77 293.0 L297.19 293.1 L298.60 293.2 L300.02 293.2 L301.43 293.3 L302.84 293.4 L304.26 293.4 L305.67 293.5 L307.09 293.6 L308.50 293.6 L309.92 293.7 L311.33 293.7 L312.75 293.8 L314.16 293.9 L315.58 293.9 L316.99 294.0 L318.41 294.0 L319.82 294.1 L321.24 294.2 L322.65 294.2 L324.07 294.3 L325.48 294.3 L326.90 294.4 L328.31 294.4 L329.72 294.5 L331.14 294.5 L332.55 294.6 L333.97 294.6 L335.38 294.7 L336.80 294.7 L338.21 294.8 L339.63 294.8 L341.04 294.9 L342.46 294.9 L343.87 295.0 L345.29 295.0 L346.70 295.1 L348.12 295.1 L349.53 295.2 L350.94 295.2 L352.36 295.3 L353.77 295.3 L355.19 295.4 L356.60 295.4 L358.02 295.5 L359.43 295.5 L360.84 295.6 L362.26 295.6 L363.67 295.6 L365.09 295.7 L366.50 295.7 L367.91 295.8 L369.33 295.8 L370.74 295.9 L372.16 295.9 L373.57 295.9 L374.98 296.0 L376.40 296.0 L377.81 296.1 L379.22 296.1 L380.64 296.1 L382.05 296.2 L383.46 296.2 L384.88 296.3 L386.29 296.3 L387.70 296.3 L389.11 296.4 L390.53 296.4 L391.94 296.4 L393.35 296.5 L394.76 296.5 L396.18 296.5 L397.59 296.6 L399.00 296.6 L400.41 296.6 L401.82 296.7 L403.24 296.7 L404.65 296.8 L406.06 296.8 L407.47 296.8 L408.88 296.8 L410.29 296.9 L411.71 296.9 L413.12 296.9 L414.53 296.9 L415.94 296.9 L417.36 296.9 L418.77 296.9 L420.18 296.9 L421.60 296.8 L423.01 296.8 L424.43 296.7 L425.85 296.7 L427.26 296.6 L428.68 296.5 L430.10 296.4 L431.52 296.3 L432.94 296.2 L434.36 296.0 L435.78 295.9 L437.20 295.7 L438.62 295.5 L440.03 295.3 L441.43 295.0 L442.82 294.7 L444.19 294.3 L445.53 293.9 L446.86 293.4 L448.15 292.8 L449.41 292.1 L450.64 291.4 L451.83 290.5 L452.97 289.6 L454.07 288.7 L455.13 287.7 L456.13 286.6 L457.08 285.5 L457.97 284.3 L458.81 283.1 L459.58 281.9 L460.29 280.6 L460.94 279.3 L461.56 277.9 L462.12 276.6 L462.66 275.2 L463.16 273.8 L463.64 272.4 L464.10 270.9 L464.55 269.5 L464.99 268.1 L465.43 266.6 L465.87 265.2 L466.31 263.7 L466.76 262.3 L467.23 260.9 L467.72 259.5 L468.23 258.1 L468.76 256.7 L469.33 255.3 L469.93 254.0 L470.58 252.7 L471.27 251.4 L472.01 250.1 L472.80 248.8 L473.66 247.6 L474.59 246.5 L475.60 245.5 L476.69 244.5 L477.82 243.6 L478.98 242.8 L480.13 241.9 L481.28 241.0 L482.41 240.0 L483.54 239.1 L484.66 238.2 L485.78 237.2 L486.90 236.3 L488.01 235.3 L489.11 234.4 L490.22 233.4 L491.33 232.5 L492.43 231.5 L493.54 230.6 L494.66 229.6 L495.77 228.7 L496.89 227.8 L498.02 226.9 L499.15 226.0 L500.29 225.1 L501.44 224.3 L502.60 223.4 L503.77 222.6 L504.96 221.8 L506.15 221.1 L507.36 220.4 L508.59 219.7 L509.83 219.0 L511.08 218.4 L512.36 217.8 L513.65 217.2 L514.96 216.7 L516.28 216.2 L517.62 215.8 L518.97 215.3 L520.33 215.0 L521.70 214.6 L523.08 214.3 L524.47 214.0 L525.87 213.7 L527.28 213.4 L528.69 213.2 L530.11 213.0 L531.53 212.8 L532.95 212.6 L534.38 212.4 L535.80 212.3 L537.23 212.2 L538.65 212.1 L540.08 212.0 L541.50 211.9 L542.92 211.8 L544.34 211.8 L545.75 211.7 L547.17 211.7 L548.59 211.6 L550.00 211.6 L551.41 211.6 L552.83 211.6 L554.24 211.6 L555.65 211.7 L557.06 211.7 L558.47 211.7 L559.88 211.8 L561.29 211.8 L562.70 211.9 L564.11 211.9 L565.51 212.0 L566.92 212.1 L568.33 212.1 L569.74 212.2 L571.15 212.3 L572.56 212.4 L573.97 212.5 L575.38 212.5 L576.79 212.6 L578.20 212.7 L579.61 212.8 L581.02 212.9 L582.43 213.0 L583.84 213.1 L585.26 213.2 L586.67 213.3 L588.08 213.4 L589.49 213.5 L590.91 213.6 L592.32 213.7 L593.73 213.7 L595.15 213.8 L596.56 213.9 L597.97 214.0 L599.39 214.1 L600.80 214.2 L602.21 214.3 L603.63 214.4 L605.04 214.5 L606.46 214.6 L607.87 214.7 L609.29 214.8 L610.70 214.9 L612.12 215.0 L613.53 215.1 L614.95 215.1 L616.36 215.2 L617.78 215.3 L619.19 215.4 L620.61 215.5 L622.02 215.5 L623.44 215.6 L624.85 215.7 L626.27 215.7 L627.69 215.8 L629.10 215.8 L630.52 215.9 L631.93 216.0 L633.35 216.0 L634.76 216.0 L636.18 216.1 L637.59 216.1 L639.01 216.2 L640.42 216.2 L641.84 216.2 L643.25 216.2 L644.66 216.2 L646.08 216.3 L647.49 216.3 L648.91 216.3 L650.32 216.3 L651.73 216.3 L653.15 216.2 L654.56 216.2 L655.97 216.2 L657.39 216.2 L658.80 216.1 L660.21 216.1 L661.62 216.0 L663.04 216.0 L664.45 215.9 L665.86 215.8 L667.27 215.8 L668.68 215.7 L670.09 215.6 L671.50 215.5 L672.91 215.4 L674.32 215.3 L675.73 215.2 L677.14 215.0 L678.55 214.9 L679.96 214.8 L681.36 214.6 L682.77 214.5 L684.18 214.3 L685.58 214.1 L686.99 213.9 L688.40 213.7 L689.80 213.5 L691.21 213.3 L692.61 213.1 L694.02 212.9 L695.42 212.7 L695.75 212.6" stroke="#ff0000" stroke-width="2.8"/>
</g>
<text transform="translate(48.30 11.00) scale(0.9787 1.0301) translate(-2.50 18.00)" font-size="27" fill="#262626">10</text>
<text transform="translate(73.80 3.10) scale(1.0270 1.0000) translate(-0.75 14.25)" font-size="21.5" fill="#262626">0</text>
<text transform="translate(42.30 176.00) scale(0.9745 1.0247) translate(-2.50 18.00)" font-size="27" fill="#262626">10</text>
<text transform="translate(68.10 176.40) scale(0.9391 1.0000) translate(-0.75 5.75)" font-size="21.5" fill="#262626">-</text>
<text transform="translate(74.80 167.80) scale(1.0706 1.0105) translate(-1.00 14.25)" font-size="21.5" fill="#262626">2</text>
<text transform="translate(72.80 236.00) scale(1.0261 1.0192) translate(-1.00 18.00)" font-size="27" fill="#262626">0</text>
<text transform="translate(50.70 288.50) scale(0.9971 1.0247) translate(-1.00 18.00)" font-size="27" fill="#262626">-90</text>
<text transform="translate(36.90 341.10) scale(1.0000 1.0356) translate(-1.00 18.00)" font-size="27" fill="#262626">-180</text>
<text transform="translate(74.20 420.50) scale(0.9702 1.0192) translate(-2.50 18.00)" font-size="27" fill="#262626">10</text>
<text transform="translate(99.60 412.10) scale(1.0270 1.0345) translate(-0.75 14.25)" font-size="21.5" fill="#262626">0</text>
<text transform="translate(505.80 420.50) scale(0.9702 1.0192) translate(-2.50 18.00)" font-size="27" fill="#262626">10</text>
<text transform="translate(533.10 412.10) scale(0.7733 1.0316) translate(-2.00 14.25)" font-size="21.5" fill="#262626">1</text>
<text transform="translate(5.00 162.40) rotate(-90) scale(1.0149 0.9929) translate(-0.25 21.50)" font-size="31" fill="#1f1f1f" stroke="#fff" stroke-width="0.25">Amplitude</text>
<text transform="translate(1.70 361.20) rotate(-90) scale(1.0391 0.9885) translate(-1.00 21.50)" font-size="31" fill="#1f1f1f" stroke="#fff" stroke-width="0.25">Phase</text>
<text transform="translate(250.80 446.70) scale(0.9960 0.9982) translate(-0.25 21.50)" font-size="31" fill="#1f1f1f" stroke="#fff" stroke-width="0.25">Angular</text>
<text transform="translate(362.70 446.60) scale(0.9882 0.9825) translate(-1.00 21.75)" font-size="31" fill="#1f1f1f" stroke="#fff" stroke-width="0.25">frequency</text>
<text transform="translate(503.70 447.30) scale(1.0323 0.9839) translate(-0.50 21.50)" font-size="31" fill="#1f1f1f" stroke="#fff" stroke-width="0.25">rad</text>
<text transform="translate(559.70 454.70) scale(1.0256 0.9492) translate(-1.25 14.50)" font-size="31" fill="#1f1f1f" stroke="#fff" stroke-width="0.25">s</text>
<text transform="translate(670.10 246.30) scale(1.0700 1.0024) translate(-1.75 20.50)" font-size="31" font-style="italic" fill="#000" stroke="#000" stroke-width="0.2">G</text>
<text transform="translate(693.30 263.80) scale(1.2774 0.8108) translate(0.25 9.25)" font-size="20" font-style="italic" fill="#000" stroke="#000" stroke-width="0.2">z</text>
<text transform="translate(705.50 256.50) scale(1.1684 1.0571) translate(-0.50 13.75)" font-size="20" font-style="italic" fill="#000" stroke="#000" stroke-width="0.2">d</text>
<text transform="translate(718.80 265.80) scale(1.2400 0.9081) translate(-1.25 9.25)" font-size="14" fill="#000" stroke="#000" stroke-width="0.2">1</text>
<text transform="translate(670.10 289.40) scale(1.0700 1.0024) translate(-1.75 20.50)" font-size="31" font-style="italic" fill="#000" stroke="#000" stroke-width="0.2">G</text>
<text transform="translate(692.80 307.50) scale(1.1024 0.8222) translate(1.50 9.25)" font-size="20" font-style="italic" fill="#000" stroke="#000" stroke-width="0.2">y</text>
<text transform="translate(706.00 300.20) scale(1.1579 1.0571) translate(-0.50 13.75)" font-size="20" font-style="italic" fill="#000" stroke="#000" stroke-width="0.2">d</text>
<text transform="translate(719.30 309.30) scale(1.3200 0.9081) translate(-1.25 9.25)" font-size="14" fill="#000" stroke="#000" stroke-width="0.2">1</text>
<text transform="translate(731.90 289.40) scale(1.0650 1.0024) translate(-1.75 20.50)" font-size="31" font-style="italic" fill="#000" stroke="#000" stroke-width="0.2">G</text>
<text transform="translate(773.50 284.70) scale(1.1556 1.0196) translate(-1.75 12.75)" font-size="19.5" fill="#000" stroke="#000" stroke-width="0.2">1</text>
<text transform="translate(755.90 311.00) scale(1.3290 0.9405) translate(0.25 9.25)" font-size="20" font-style="italic" fill="#000" stroke="#000" stroke-width="0.2">z</text>
<text transform="translate(767.70 305.00) scale(1.1895 1.0500) translate(-0.50 13.75)" font-size="20" font-style="italic" fill="#000" stroke="#000" stroke-width="0.2">d</text>
<text transform="translate(780.10 313.10) scale(1.3200 0.9622) translate(-1.25 9.25)" font-size="14" fill="#000" stroke="#000" stroke-width="0.2">1</text>
<text transform="translate(670.10 332.70) scale(1.0700 1.0024) translate(-1.75 20.50)" font-size="31" font-style="italic" fill="#000" stroke="#000" stroke-width="0.2">G</text>
<text transform="translate(692.80 350.80) scale(1.1024 0.8222) translate(1.50 9.25)" font-size="20" font-style="italic" fill="#000" stroke="#000" stroke-width="0.2">y</text>
<text transform="translate(706.00 343.50) scale(1.1579 1.0571) translate(-0.50 13.75)" font-size="20" font-style="italic" fill="#000" stroke="#000" stroke-width="0.2">d</text>
<text transform="translate(719.30 352.60) scale(1.2696 0.9081) translate(-0.50 9.25)" font-size="14" fill="#000" stroke="#000" stroke-width="0.2">2</text>
<text transform="translate(731.90 332.70) scale(1.0650 1.0024) translate(-1.75 20.50)" font-size="31" font-style="italic" fill="#000" stroke="#000" stroke-width="0.2">G</text>
<text transform="translate(773.50 328.00) scale(1.1556 1.0196) translate(-1.75 12.75)" font-size="19.5" fill="#000" stroke="#000" stroke-width="0.2">1</text>
<text transform="translate(755.90 354.30) scale(1.3290 0.9405) translate(0.25 9.25)" font-size="20" font-style="italic" fill="#000" stroke="#000" stroke-width="0.2">z</text>
<text transform="translate(767.70 348.30) scale(1.1895 1.0500) translate(-0.50 13.75)" font-size="20" font-style="italic" fill="#000" stroke="#000" stroke-width="0.2">d</text>
<text transform="translate(780.10 356.40) scale(1.2696 0.9622) translate(-0.50 9.25)" font-size="14" fill="#000" stroke="#000" stroke-width="0.2">2</text>
<g fill="none" stroke="#1f1f1f" stroke-width="1.4">
<path d="M29.5 270.4 V273.7 H0.7 V270.4"/>
<path d="M29.5 257.4 V254.1 H0.7 V257.4"/>
<circle cx="6.6" cy="264.9" r="3.4" stroke-width="1.1"/>
<path d="M502.3 446.1 H498.3 V477"/>
<path d="M571.7 446.1 H576.5 V477"/>
<path d="M558.2 445.8 L545.9 476.6" stroke-width="1.45"/>
</g>
<g fill="none" stroke-width="2.7">
<path d="M558.4 260 H657.2" stroke="#8e8e8e" stroke-dasharray="8 8"/>
<path d="M558.4 303.1 H657" stroke="#000"/>
<path d="M558.4 346.4 H657" stroke="#ff0000"/>
</g>
<g fill="none" stroke="#000" stroke-width="1.4">
<path d="M756.1 292.4 H769.8 M756.1 335.7 H769.8"/>
</g>
</svg></body></html>
